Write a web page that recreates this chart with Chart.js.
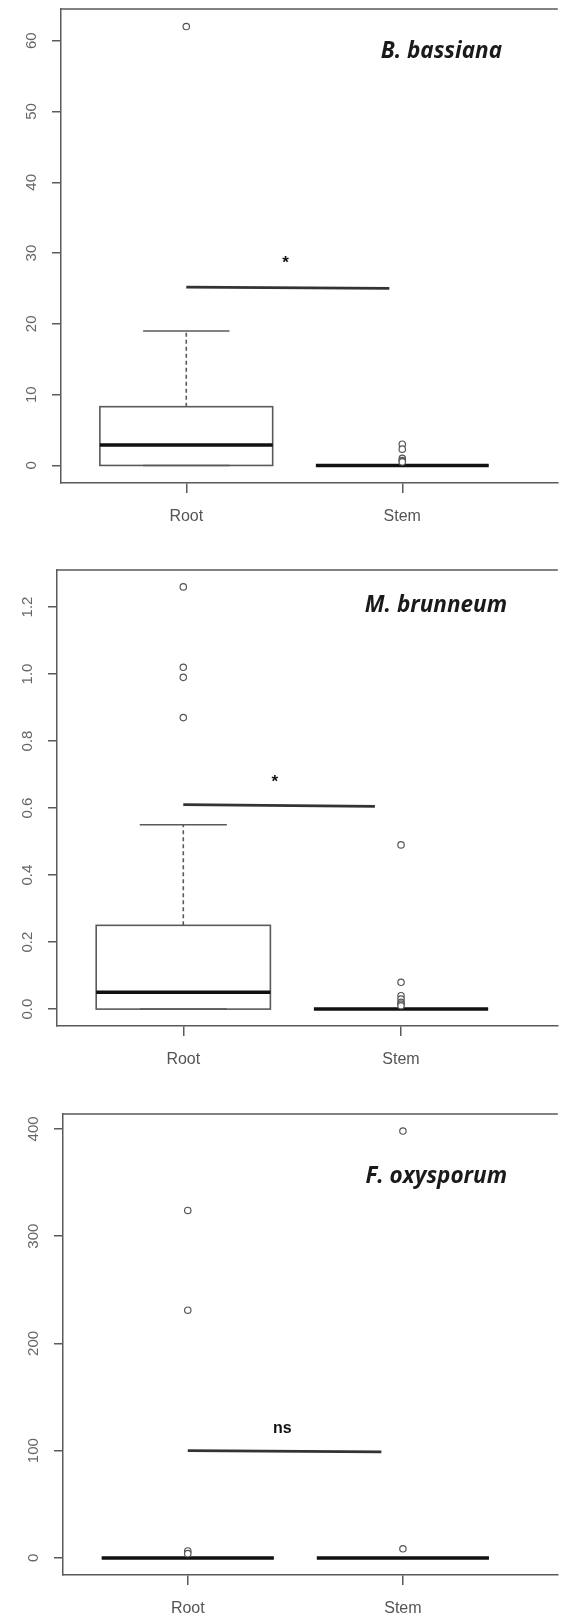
<!DOCTYPE html>
<html>
<head>
<meta charset="utf-8">
<script src="https://cdn.jsdelivr.net/npm/chart.js@4.4.1/dist/chart.umd.min.js"></script>
<style>
  html, body { margin: 0; padding: 0; background: #fff; }
  canvas.panel { position: absolute; left: 0; }
</style>
</head>
<body>
<canvas id="bbChart" class="panel" width="563" height="540" style="top:0"></canvas>
<canvas id="mbChart" class="panel" width="563" height="540" style="top:540px"></canvas>
<canvas id="foChart" class="panel" width="563" height="536" style="top:1080px"></canvas>
<script>
const categories = ['Root', 'Stem'];

// B. bassiana
const bbQ1 = [0, 0];
const bbMedian = [2.9, 0];
const bbQ3 = [8.3, 0];
const bbLower = [0, 0];
const bbUpper = [19, 0];
const bbRootOutliers = [62];
const bbStemOutliers = [3, 2.3, 1, 0.7, 0.5];
const bbTicks = [0, 10, 20, 30, 40, 50, 60];
const bbTickLabels = ['0', '10', '20', '30', '40', '50', '60'];
const bbSigLine = [25.2, 25.0];
const bbSigMark = { x: 1.46, y: 29.2, text: '*' };

// M. brunneum
const mbQ1 = [0, 0];
const mbMedian = [0.05, 0];
const mbQ3 = [0.25, 0];
const mbLower = [0, 0];
const mbUpper = [0.55, 0];
const mbRootOutliers = [1.26, 1.02, 0.99, 0.87];
const mbStemOutliers = [0.49, 0.08, 0.04, 0.03, 0.02, 0.015, 0.01];
const mbTicks = [0, 0.2, 0.4, 0.6, 0.8, 1.0, 1.2];
const mbTickLabels = ['0.0', '0.2', '0.4', '0.6', '0.8', '1.0', '1.2'];
const mbSigLine = [0.61, 0.605];
const mbSigMark = { x: 1.42, y: 0.69, text: '*' };

// F. oxysporum
const foQ1 = [0, 0];
const foMedian = [0, 0];
const foQ3 = [0, 0];
const foLower = [0, 0];
const foUpper = [0, 0];
const foRootOutliers = [324, 231, 6.5, 4];
const foStemOutliers = [398, 8.5];
const foTicks = [0, 100, 200, 300, 400];
const foTickLabels = ['0', '100', '200', '300', '400'];
const foSigLine = [100, 98.8];
const foSigMark = { x: 1.44, y: 121, text: 'ns' };

const LINE = '#5a5a5a';
const SANS = '"Liberation Sans", Arial, sans-serif';

function strokeLine(ctx, x1, y1, x2, y2) {
  ctx.beginPath();
  ctx.moveTo(x1, y1);
  ctx.lineTo(x2, y2);
  ctx.stroke();
}

// R-style boxes, whiskers and staples, drawn under the outlier points
const boxPlugin = {
  id: 'boxes',
  beforeDatasetsDraw(chart, args, opts) {
    const { ctx, scales: { x, y } } = chart;
    ctx.save();
    categories.forEach((_, i) => {
      const cx = x.getPixelForValue(i + 1);
      const hw = x.getPixelForValue(i + 1.4) - cx;
      const sw = hw / 2;
      const pQ1 = y.getPixelForValue(opts.q1[i]);
      const pQ3 = y.getPixelForValue(opts.q3[i]);
      const pMed = y.getPixelForValue(opts.median[i]);
      const pLo = y.getPixelForValue(opts.lower[i]);
      const pHi = y.getPixelForValue(opts.upper[i]);
      ctx.strokeStyle = LINE;
      ctx.lineWidth = 1.6;
      ctx.setLineDash([4, 3]);
      if (pHi < pQ3) strokeLine(ctx, cx, pQ3, cx, pHi);
      if (pLo > pQ1) strokeLine(ctx, cx, pQ1, cx, pLo);
      ctx.setLineDash([]);
      strokeLine(ctx, cx - sw, pHi, cx + sw, pHi);
      strokeLine(ctx, cx - sw, pLo, cx + sw, pLo);
      ctx.strokeRect(cx - hw, pQ3, 2 * hw, pQ1 - pQ3);
      ctx.strokeStyle = '#111';
      ctx.lineWidth = 3.5;
      strokeLine(ctx, cx - hw, pMed, cx + hw, pMed);
    });
    ctx.restore();
  },
  afterDraw(chart, args, opts) {
    const { ctx, chartArea, scales: { x, y } } = chart;
    ctx.save();
    // top side of the frame
    ctx.strokeStyle = LINE;
    ctx.lineWidth = 1.5;
    strokeLine(ctx, chartArea.left, chartArea.top, chartArea.right, chartArea.top);

    // rotated y tick labels
    ctx.fillStyle = '#666';
    ctx.font = '15px ' + SANS;
    ctx.textAlign = 'center';
    ctx.textBaseline = 'middle';
    y.ticks.forEach((t, i) => {
      ctx.save();
      ctx.translate(chartArea.left - 29, y.getPixelForValue(t.value));
      ctx.rotate(-Math.PI / 2);
      ctx.fillText(opts.tickLabels[i], 0, 0);
      ctx.restore();
    });

    // significance mark above the bracket
    const mx = x.getPixelForValue(opts.mark.x);
    const my = y.getPixelForValue(opts.mark.y);
    ctx.fillStyle = '#111';
    if (opts.mark.text === '*') {
      ctx.font = 'bold 17px ' + SANS;
      ctx.textBaseline = 'alphabetic';
      ctx.fillText('*', mx, my + 9.5);
    } else {
      ctx.font = 'bold 16px ' + SANS;
      ctx.textBaseline = 'middle';
      ctx.fillText(opts.mark.text, mx, my);
    }

    // species name
    ctx.font = 'italic bold 22.5px "Open Sans", Lato, sans-serif';
    ctx.fillStyle = '#1a1a1a';
    ctx.textAlign = 'right';
    ctx.textBaseline = 'alphabetic';
    ctx.fillText(opts.title, opts.titleX, opts.titleY);
    ctx.restore();
  }
};

function pointsAt(xValue, values) {
  return values.map(v => ({ x: xValue, y: v }));
}

function drawPanel(id, d, layout) {
  const all = [].concat(d.q1, d.q3, d.lower, d.upper, d.rootOut, d.stemOut);
  const lo = Math.min(...all);
  const hi = Math.max(...all);
  const ext = (hi - lo) * 0.04;

  new Chart(document.getElementById(id), {
    type: 'scatter',
    data: {
      datasets: [
        {
          data: [{ x: 1, y: d.sig[0] }, { x: 1 + layout.sigSpan, y: d.sig[1] }],
          showLine: true,
          borderColor: '#333',
          borderWidth: 2.8,
          pointRadius: 0,
        },
        {
          data: pointsAt(1, d.rootOut).concat(pointsAt(2, d.stemOut)),
          pointRadius: 3.2,
          borderWidth: 1.2,
          borderColor: '#555',
          backgroundColor: '#fff',
        },
      ],
    },
    options: {
      responsive: false,
      animation: false,
      devicePixelRatio: 1,
      layout: { padding: { top: layout.top, left: 0, right: 0, bottom: 0 } },
      plugins: {
        legend: { display: false },
        tooltip: { enabled: false },
        boxes: {
          q1: d.q1, q3: d.q3, median: d.median, lower: d.lower, upper: d.upper,
          tickLabels: d.tickLabels,
          mark: d.mark,
          title: d.title,
          titleX: layout.titleX,
          titleY: layout.titleY,
        },
      },
      scales: {
        x: {
          type: 'linear',
          min: 0.42,
          max: 2.72,
          afterBuildTicks: (scale) => {
            scale.ticks = categories.map((_, i) => ({ value: i + 1 }));
          },
          afterFit: (scale) => { scale.height = layout.xHeight; },
          ticks: {
            callback: (v) => categories[v - 1],
            color: '#555',
            font: { size: 16, family: SANS },
            padding: 14,
            maxRotation: 0,
            autoSkip: false,
          },
          grid: { drawOnChartArea: false, drawTicks: true, tickLength: 10, color: LINE, lineWidth: 1.5 },
          border: { display: true, color: LINE, width: 1.5 },
        },
        y: {
          min: lo - ext,
          max: hi + ext,
          afterBuildTicks: (scale) => {
            scale.ticks = d.ticks.map(v => ({ value: v }));
          },
          afterFit: (scale) => { scale.width = layout.left; },
          ticks: { display: false },
          grid: { drawOnChartArea: false, drawTicks: true, tickLength: 9, color: LINE, lineWidth: 1.5 },
          border: { display: true, color: LINE, width: 1.5 },
        },
      },
    },
    plugins: [boxPlugin],
  });
}

drawPanel('bbChart', {
  q1: bbQ1, median: bbMedian, q3: bbQ3, lower: bbLower, upper: bbUpper,
  rootOut: bbRootOutliers, stemOut: bbStemOutliers,
  ticks: bbTicks, tickLabels: bbTickLabels,
  sig: bbSigLine, mark: bbSigMark, title: 'B. bassiana',
}, { top: 9, left: 61, xHeight: 57, sigSpan: 0.94, titleX: 502, titleY: 58 });

drawPanel('mbChart', {
  q1: mbQ1, median: mbMedian, q3: mbQ3, lower: mbLower, upper: mbUpper,
  rootOut: mbRootOutliers, stemOut: mbStemOutliers,
  ticks: mbTicks, tickLabels: mbTickLabels,
  sig: mbSigLine, mark: mbSigMark, title: 'M. brunneum',
}, { top: 30, left: 57, xHeight: 54, sigSpan: 0.88, titleX: 507, titleY: 72 });

drawPanel('foChart', {
  q1: foQ1, median: foMedian, q3: foQ3, lower: foLower, upper: foUpper,
  rootOut: foRootOutliers, stemOut: foStemOutliers,
  ticks: foTicks, tickLabels: foTickLabels,
  sig: foSigLine, mark: foSigMark, title: 'F. oxysporum',
}, { top: 34, left: 63, xHeight: 41, sigSpan: 0.90, titleX: 507, titleY: 103 });
</script>
</body>
</html>
